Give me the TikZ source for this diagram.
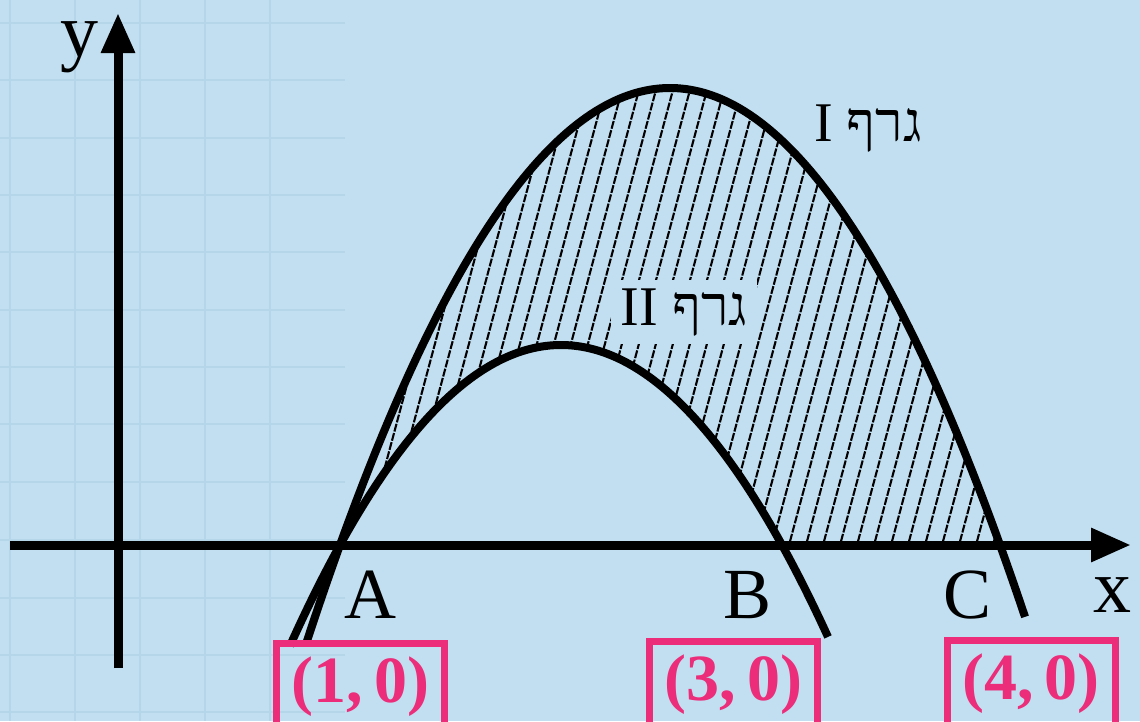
\documentclass[tikz,border=0pt]{standalone}
\usepackage{fontspec}
\setmainfont{Liberation Serif}
\newfontfamily\hebfont[Script=Hebrew]{Liberation Serif}
\TeXXeTstate=1
\usetikzlibrary{arrows.meta}
\definecolor{bgblue}{RGB}{193,223,241}
\definecolor{gridc}{RGB}{181,213,233}
\definecolor{pinkc}{RGB}{236,45,122}
\begin{document}
\begin{tikzpicture}[x=1pt,y=-1pt,
  declare function={fa(\t)=545-457*(1-((\t-670)/330)*((\t-670)/330));
                    fb(\t)=545-200*(1-((\t-561)/221)*((\t-561)/221));},
  axis/.style={line width=9pt,-{Triangle[length=40pt,width=32pt]}},
  curve/.style={line width=8pt,line join=round},
  hatchline/.style={line width=2.1pt,dash pattern=on 8pt off 1.5pt},
  gridline/.style={draw=gridc,line width=2.5pt},
  lbl/.style={font=\fontsize{72}{72}\selectfont,anchor=base,inner sep=0pt},
  axlbl/.style={font=\fontsize{76}{76}\selectfont,anchor=base,inner sep=0pt},
  heb/.style={font=\fontsize{56}{56}\selectfont\hebfont,anchor=base,inner sep=0pt},
  ptbox/.style={draw=pinkc,line width=7pt,text=pinkc,minimum width=168pt,minimum height=87pt,
                inner sep=0pt,font=\fontsize{66}{66}\selectfont\bfseries}
]
\useasboundingbox (0,0) rectangle (1140,721);
\fill[bgblue] (0,0) rectangle (1140,721);
% faint grid at the left
\foreach \gx in {10,75,140,205,270}
  \draw[gridline] (\gx,0) -- (\gx,721);
\foreach \gy in {23,80,138,195,252,310,367,424,482,540,598,655,712}
  \draw[gridline] (0,\gy) -- (345,\gy);
% hatching between the curves
\begin{scope}
  \clip plot[domain=340:1000,samples=120] (\x,{fa(\x)}) -- (782,545)
        -- plot[domain=782:340,samples=80] (\x,{fb(\x)}) -- cycle;
  \foreach \i in {0,...,52}
    \draw[hatchline] ({190+17*\i},560) -- ({190+17*\i+134},60);
\end{scope}
% label of graph II on a plain patch
\node[heb,fill=bgblue,inner xsep=10pt,inner ysep=8pt] (g2) at (684,325) {\beginR גרף II\endR};
\node[heb] (g1) at (868,141) {\beginR גרף I\endR};
% curves
\draw[curve] plot[domain=305.6:1025,samples=150] (\x,{fa(\x)});
\draw[curve] plot[domain=290:828,samples=150] (\x,{fb(\x)});
% axes
\coordinate (xs) at (10,545);
\coordinate (xe) at (1131,545);
\coordinate (ys) at (118,668);
\coordinate (ye) at (118,13);
\draw[axis] (xs) -- (xe);
\draw[axis] (ys) -- (ye);
% labels
\node[lbl] (A) at (370,618) {A};
\node[lbl] (B) at (748,618) {B};
\node[lbl] (C) at (967,618) {C};
\node[axlbl] (xl) at (1112,612) {x};
\node[axlbl] (yl) at (79,56) {y};
% pink boxes
\node[ptbox] (p1) at (360.5,687) {(1,\,0)};
\node[ptbox] (p2) at (733.5,685) {(3,\,0)};
\node[ptbox] (p3) at (1031,684) {(4,\,0)};
\end{tikzpicture}
\end{document}
